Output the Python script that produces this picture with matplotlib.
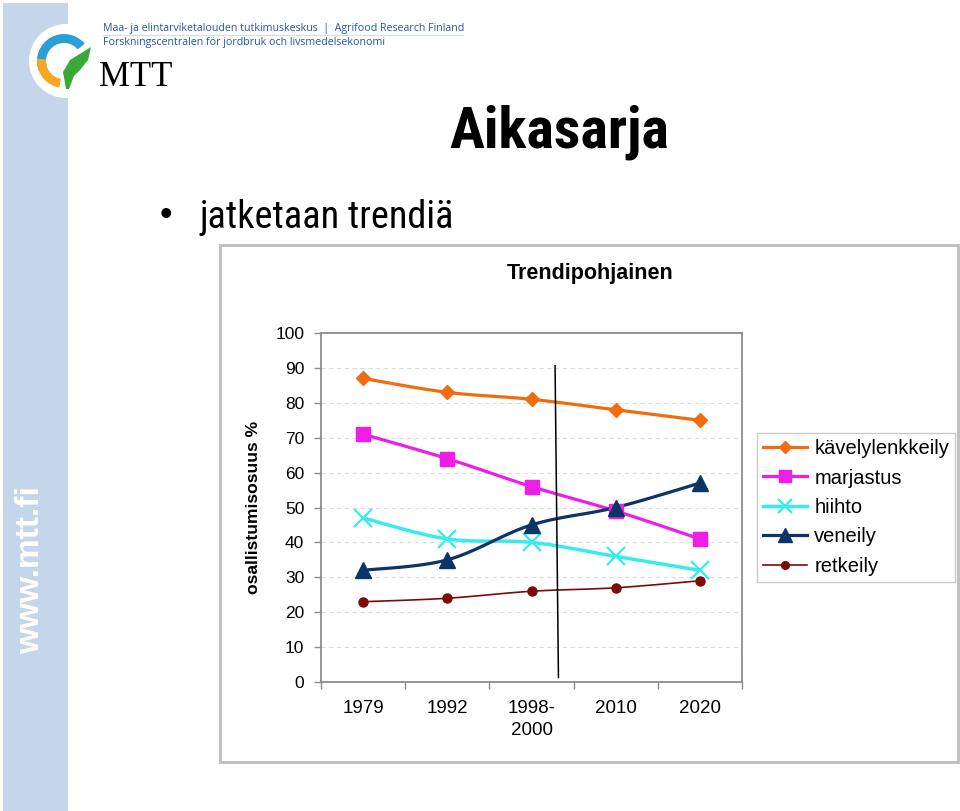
import numpy as np
import matplotlib
matplotlib.use("Agg")
import matplotlib.pyplot as plt
from matplotlib import font_manager
from matplotlib.transforms import Affine2D
from matplotlib.patches import Rectangle, Circle, Wedge, Polygon
from matplotlib.lines import Line2D

# ---------------- data ----------------
categories = ["1979", "1992", "1998-\n2000", "2010", "2020"]
kavelylenkkeily = [87, 83, 81, 78, 75]
marjastus = [71, 64, 56, 49, 41]
hiihto = [47, 41, 40, 36, 32]
veneily = [32, 35, 45, 50, 57]
retkeily = [23, 24, 26, 27, 29]
series_names = ["kävelylenkkeily", "marjastus", "hiihto", "veneily", "retkeily"]
y_ticks = [0, 10, 20, 30, 40, 50, 60, 70, 80, 90, 100]

# ---------------- fonts ----------------
available = sorted({f.name for f in font_manager.fontManager.ttflist})
SANS = "Liberation Sans" if "Liberation Sans" in available else "DejaVu Sans"
narrow_cands = [n for n in available if ("Narrow" in n or "Condensed" in n)]
pref = [n for n in narrow_cands if "Liberation" in n] + \
       [n for n in narrow_cands if "Roboto" in n] + \
       [n for n in narrow_cands if "Sans" in n] + narrow_cands
NARROW = pref[0] if pref else None
SERIF = "Liberation Serif" if "Liberation Serif" in available else "DejaVu Serif"
LOGOF = "Open Sans" if "Open Sans" in available else SANS
plt.rcParams["font.family"] = [SANS, "DejaVu Sans"]

W, H = 960, 811
fig = plt.figure(figsize=(W / 100, H / 100), dpi=100)
fig.patch.set_facecolor("white")
PX = Affine2D().scale(1, -1).translate(0, H)  # pixel coords, origin top-left


def px_rect(x0, y0, x1, y1):
    return [x0 / W, 1 - y1 / H, (x1 - x0) / W, (y1 - y0) / H]


# ---------------- slide decorations ----------------
fig.patches.append(Rectangle((3, 3), 65, H, transform=PX, facecolor="#c6d6ea",
                             edgecolor="none", zorder=-3))
fig.patches.append(Circle((66, 61), 37, transform=PX, facecolor="white",
                          edgecolor="none", zorder=-2))
fig.patches.append(Wedge((64, 61), 27, -200, -40, width=9, transform=PX,
                         facecolor="#2a9fd6", edgecolor="none", zorder=-1))
fig.patches.append(Wedge((64, 61), 27, 100, 185, width=9, transform=PX,
                         facecolor="#f5a623", edgecolor="none", zorder=-1))
leaf = [(66, 89), (63, 72), (70, 60), (91, 47), (88, 60), (80, 70),
        (74, 76), (69, 89)]
fig.patches.append(Polygon(leaf, closed=True, transform=PX,
                           facecolor="#3aa935", edgecolor="none", zorder=-1))
fig.text(103, 28, "Maa- ja elintarviketalouden tutkimuskeskus  |  Agrifood Research Finland",
         transform=PX, fontsize=7.7, color="#2456a4", family=[LOGOF, "DejaVu Sans"],
         va="center", ha="left")
fig.text(103, 43, "Forskningscentralen för jordbruk och livsmedelsekonomi",
         transform=PX, fontsize=7.7, color="#2456a4", family=[LOGOF, "DejaVu Sans"],
         va="center", ha="left")
fig.add_artist(Line2D([103, 463], [35, 35], transform=PX, color="#d0dcec", lw=0.8))
fig.text(99, 86, "MTT", transform=PX, fontsize=25, color="black",
         family=[SERIF, "DejaVu Serif"], va="baseline", ha="left")
fig.text(39, 570, "www.mtt.fi", transform=PX, fontsize=24, color="white",
         fontweight="bold", rotation=90, rotation_mode="anchor",
         ha="center", va="baseline")

if NARROW:
    fig.text(669, 147, "Aikasarja", transform=PX, fontsize=42, fontweight="bold",
             family=[NARROW, "DejaVu Sans"], ha="right", va="baseline")
    fig.text(199, 228, "jatketaan trendiä", transform=PX, fontsize=27.5,
             family=[NARROW, "DejaVu Sans"], ha="left", va="baseline")
else:
    fig.text(668, 147, "Aikasarja", transform=PX, fontsize=37, fontweight="bold",
             ha="right", va="baseline")
    fig.text(199, 228, "jatketaan trendiä", transform=PX, fontsize=24,
             ha="left", va="baseline")
fig.text(166, 216, "•", transform=PX, fontsize=26, ha="center", va="center")

# chart frame
fig.patches.append(Rectangle((220, 245), 738, 517, transform=PX, facecolor="white",
                             edgecolor="#bdbdbd", lw=2, zorder=-1))
fig.text(590, 273, "Trendipohjainen", transform=PX, fontsize=15.5, fontweight="bold",
         ha="center", va="center")

# ---------------- axes ----------------
ax = fig.add_axes(px_rect(321, 333, 742, 682))
ax.set_zorder(1)
ax.set_facecolor("white")
x = np.arange(len(categories))


def smooth(xs, ys, n=30):
    """Catmull-Rom style smoothing (Excel 'smoothed line')."""
    P = np.column_stack([np.asarray(xs, float), np.asarray(ys, float)])
    P = np.vstack([P[0], P, P[-1]])
    out = []
    t = np.linspace(0, 1, n)
    for i in range(1, len(P) - 2):
        p0, p1, p2, p3 = P[i - 1], P[i], P[i + 1], P[i + 2]
        c1 = p1 + (p2 - p0) / 6
        c2 = p2 - (p3 - p1) / 6
        seg = ((1 - t) ** 3)[:, None] * p1 + (3 * (1 - t) ** 2 * t)[:, None] * c1 \
            + (3 * (1 - t) * t ** 2)[:, None] * c2 + (t ** 3)[:, None] * p2
        out.append(seg if i == 1 else seg[1:])
    S = np.vstack(out)
    return S[:, 0], S[:, 1]


styles = [
    dict(color="#f26b0f", lw=2.3, marker="D", ms=7.2, mew=1),
    dict(color="#ee1ee8", lw=2.3, marker="s", ms=10, mew=1),
    dict(color="#36ecec", lw=2.5, marker="x", ms=12.5, mew=1.6),
    dict(color="#0b3467", lw=2.3, marker="^", ms=11.5, mew=1),
    dict(color="#7d0a0a", lw=1.2, marker="o", ms=6.5, mew=1),
]
all_series = [kavelylenkkeily, marjastus, hiihto, veneily, retkeily]
handles = []
for name, vals, st in zip(series_names, all_series, styles):
    sx, sy = smooth(x, vals)
    ax.plot(sx, sy, color=st["color"], lw=st["lw"], zorder=3, solid_capstyle="round")
    ax.plot(x, vals, ls="none", marker=st["marker"], ms=st["ms"], mew=st["mew"],
            color=st["color"], mfc=st["color"], mec=st["color"], zorder=4)
    handles.append(Line2D([], [], color=st["color"], lw=st["lw"], marker=st["marker"],
                          ms=st["ms"] * 0.85, mew=st["mew"], mfc=st["color"],
                          mec=st["color"], label=name))

# divider line between history and forecast
ax.plot([2.28, 2.32], [90.6, 1.3], color="black", lw=1.1, zorder=5)

ax.set_xlim(-0.5, len(categories) - 0.5)
ax.set_ylim(0, 100)
ax.set_yticks(y_ticks)
ax.set_yticklabels([str(v) for v in y_ticks])
ax.set_xticks(x)
ax.set_xticklabels(categories, fontsize=13.5, linespacing=1.35)
ax.set_xticks(np.arange(-0.5, len(categories)), minor=True)
ax.tick_params(axis="x", which="major", length=0, pad=13)
ax.tick_params(axis="x", which="minor", length=5, color="#8c8c8c", width=1)
ax.tick_params(axis="y", which="major", length=5, color="#8c8c8c", width=1,
               labelsize=12.5, pad=7)
for y in y_ticks[1:-1]:
    ax.axhline(y, color="#dcdcdc", lw=0.8, ls=(0, (4, 3)), zorder=1)
for sp in ax.spines.values():
    sp.set_color("#8c8c8c")
    sp.set_linewidth(1.3)

fig.text(253, 507, "osallistumisosuus %", transform=PX, fontsize=12.6, fontweight="bold",
         rotation=90, ha="center", va="center")

leg = fig.legend(handles=handles, loc="upper left",
                 bbox_to_anchor=(757 / W, 1 - 433 / H), borderaxespad=0,
                 fontsize=14.5, frameon=True, fancybox=False, edgecolor="#bdbdbd",
                 handlelength=2.2, handletextpad=0.35, labelspacing=0.52,
                 borderpad=0.3, numpoints=1)
leg.get_frame().set_linewidth(1.0)
leg.set_zorder(2)

fig.savefig("out.png", dpi=100, facecolor="white")
